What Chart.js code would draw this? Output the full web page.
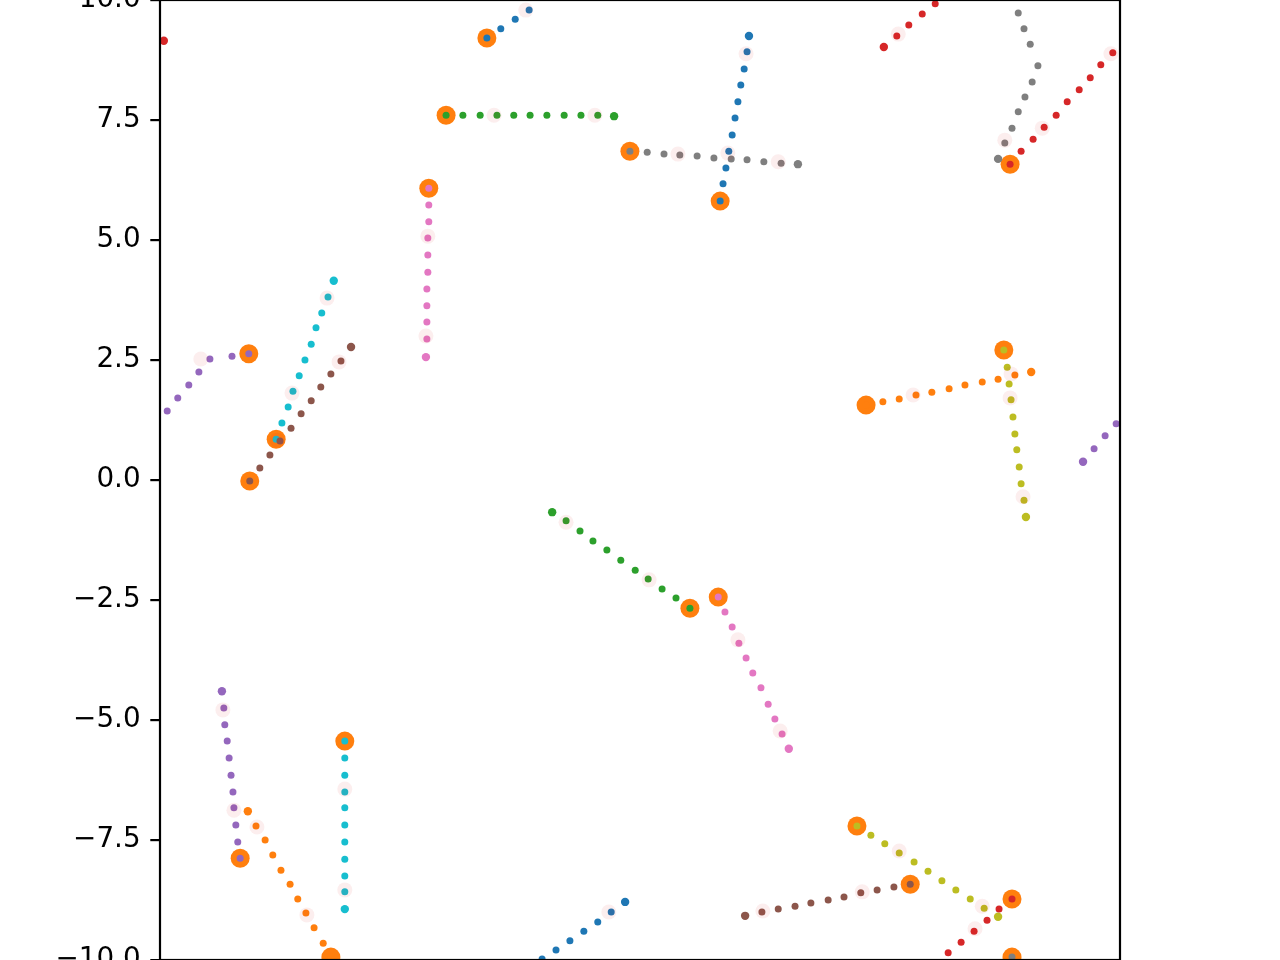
<!DOCTYPE html>
<html><head><meta charset="utf-8">
<script src="https://cdn.jsdelivr.net/npm/chart.js@4/dist/chart.umd.min.js"></script>
<style>html,body{margin:0;padding:0;background:#fff}canvas{display:block}</style>
</head><body>
<canvas id="c" width="1280" height="960"></canvas>
<script>
// ---- data (x, y per trajectory, first point = start, last = end) ----
const blueAX = [-3.19,-2.90,-2.60,-2.31,-2.04,-1.75,-1.46,-1.17,-0.88,-0.60,-0.31];
const blueAY = [9.21,9.40,9.60,9.79,-9.98,-9.79,-9.60,-9.40,-9.21,-9.00,-8.79];
const blueBX = [1.67,1.73,1.79,1.85,1.92,1.98,2.04,2.10,2.17,2.23,2.27];
const blueBY = [5.81,6.17,6.50,6.85,7.19,7.54,7.88,8.23,8.56,8.92,9.25];
const orangeAX = [4.71,5.06,5.40,5.75,6.08,6.44,6.77,7.13,7.46,7.81,8.15];
const orangeAY = [1.56,1.63,1.69,1.77,1.83,1.90,1.98,2.04,2.10,2.19,2.25];
const orangeBX = [-6.44,-6.60,-6.79,-6.96,-7.13,-7.29,-7.48,-7.65,-7.81,-8.00,-8.17];
const orangeBY = [-9.94,-9.65,-9.33,-9.02,-8.73,-8.42,-8.13,-7.81,-7.50,-7.21,-6.90];
const greenAX = [-4.04,-3.69,-3.33,-2.98,-2.63,-2.29,-1.94,-1.58,-1.23,-0.88,-0.54];
const greenAY = [7.60,7.60,7.60,7.60,7.60,7.60,7.60,7.60,7.60,7.60,7.58];
const greenBX = [1.04,0.75,0.46,0.17,-0.10,-0.40,-0.69,-0.98,-1.25,-1.54,-1.83];
const greenBY = [-2.67,-2.46,-2.27,-2.06,-1.88,-1.67,-1.46,-1.27,-1.06,-0.85,-0.67];
const redAX = [7.75,7.48,7.23,6.96,6.69,6.42,6.15,5.88,5.60,5.35,5.08];
const redAY = [-8.73,-8.94,-9.17,-9.40,-9.63,-9.85,9.92,9.71,9.48,9.25,9.02];
const redBX = [7.71,7.94,8.19,8.42,8.67,8.90,9.15,9.38,9.60,9.85,-9.92];
const redBY = [6.58,6.85,7.10,7.35,7.60,7.88,8.13,8.38,8.65,8.90,9.15];
const purpleAX = [-8.15,-8.50,-8.96,-9.19,-9.40,-9.63,-9.85,9.92,9.69,9.46,9.23];
const purpleAY = [2.63,2.58,2.52,2.25,1.98,1.71,1.44,1.17,0.92,0.65,0.38];
const purpleBX = [-8.33,-8.38,-8.42,-8.46,-8.48,-8.52,-8.56,-8.60,-8.65,-8.67,-8.71];
const purpleBY = [-7.88,-7.54,-7.19,-6.83,-6.50,-6.15,-5.79,-5.44,-5.10,-4.75,-4.40];
const brownAX = [-8.13,-7.92,-7.71,-7.50,-7.27,-7.06,-6.85,-6.65,-6.44,-6.23,-6.02];
const brownAY = [-0.02,0.25,0.52,0.81,1.08,1.38,1.65,1.94,2.21,2.48,2.77];
const brownBX = [5.63,5.29,4.94,4.60,4.25,3.92,3.56,3.23,2.88,2.54,2.19];
const brownBY = [-8.42,-8.48,-8.54,-8.60,-8.69,-8.75,-8.81,-8.88,-8.94,-9.00,-9.08];
const pinkAX = [-4.40,-4.40,-4.40,-4.42,-4.42,-4.42,-4.44,-4.44,-4.44,-4.44,-4.46];
const pinkAY = [6.08,5.73,5.38,5.04,4.69,4.33,3.98,3.63,3.29,2.94,2.56];
const pinkBX = [1.63,1.77,1.92,2.06,2.21,2.35,2.52,2.67,2.81,2.96,3.10];
const pinkBY = [-2.44,-2.75,-3.06,-3.40,-3.71,-4.02,-4.33,-4.67,-4.98,-5.29,-5.60];
const grayAX = [-0.21,0.15,0.50,0.83,1.19,1.54,1.90,2.23,2.58,2.94,3.29];
const grayAY = [6.85,6.83,6.79,6.77,6.75,6.71,6.69,6.67,6.63,6.60,6.58];
const grayBX = [7.75,7.88,8.00,8.13,8.29,8.17,8.02,7.88,7.75,7.60,7.46];
const grayBY = [-9.94,9.73,9.40,9.08,8.63,8.29,7.98,7.67,7.33,7.02,6.69];
const oliveAX = [7.58,7.65,7.69,7.73,7.77,7.81,7.85,7.90,7.94,8.00,8.04];
const oliveAY = [2.71,2.35,2.00,1.67,1.31,0.96,0.63,0.27,-0.08,-0.42,-0.77];
const oliveBX = [4.52,4.81,5.10,5.40,5.71,6.00,6.29,6.58,6.88,7.17,7.46];
const oliveBY = [-7.21,-7.40,-7.58,-7.77,-7.96,-8.15,-8.35,-8.54,-8.73,-8.92,-9.10];
const cyanAX = [-7.58,-7.46,-7.33,-7.23,-7.10,-6.98,-6.85,-6.75,-6.63,-6.50,-6.38];
const cyanAY = [0.85,1.19,1.52,1.85,2.17,2.50,2.83,3.17,3.48,3.81,4.15];
const cyanBX = [-6.15,-6.15,-6.15,-6.15,-6.15,-6.15,-6.15,-6.15,-6.15,-6.15,-6.15];
const cyanBY = [-5.44,-5.79,-6.15,-6.50,-6.83,-7.19,-7.54,-7.90,-8.25,-8.58,-8.94];

// faint observation halos
const haloX = [-2.38,-3.04,-0.94,0.79,1.83,2.21,2.88,5.38,7.60,8.38,9.81,-9.15,-6.52,-7.25,-7.56,-6.27,-4.42,-4.46,5.69,7.73,7.71,7.98,-1.54,0.19,2.04,2.92,-8.69,-8.46,-7.98,-6.94,-6.15,-6.15,-0.65,2.56,4.63,5.40,7.13,6.98];
const haloY = [9.79,7.60,7.60,6.79,6.81,8.88,6.63,9.29,7.08,7.33,8.88,2.52,3.79,1.81,0.83,2.46,5.08,3.00,1.77,2.21,1.71,-0.35,-0.88,-2.08,-3.33,-5.23,-4.79,-6.88,-7.23,-9.06,-6.44,-8.54,-9.00,-8.98,-8.58,-7.73,-8.88,-9.35];

const yTickValues = [-10,-7.5,-5,-2.5,0,2.5,5,7.5,10];

// ---- styles ----
const tab10 = {blue:'#1f77b4',orange:'#ff7f0e',green:'#2ca02c',red:'#d62728',purple:'#9467bd',
  brown:'#8c564b',pink:'#e377c2',gray:'#7f7f7f',olive:'#bcbd22',cyan:'#17becf'};
const trajectories = [
  [blueAX,blueAY,tab10.blue],[orangeAX,orangeAY,tab10.orange],[greenAX,greenAY,tab10.green],
  [redAX,redAY,tab10.red],[purpleAX,purpleAY,tab10.purple],[brownAX,brownAY,tab10.brown],
  [pinkAX,pinkAY,tab10.pink],[grayAX,grayAY,tab10.gray],[oliveAX,oliveAY,tab10.olive],
  [cyanAX,cyanAY,tab10.cyan],
  [blueBX,blueBY,tab10.blue],[orangeBX,orangeBY,tab10.orange],[greenBX,greenBY,tab10.green],
  [redBX,redBY,tab10.red],[purpleBX,purpleBY,tab10.purple],[brownBX,brownBY,tab10.brown],
  [pinkBX,pinkBY,tab10.pink],[grayBX,grayBY,tab10.gray],[oliveBX,oliveBY,tab10.olive],
  [cyanBX,cyanBY,tab10.cyan]
];
const DOT_R = 3.5, END_R = 4.2, START_R = 9.5, HALO_R = 7.5;

const datasets = [];
datasets.push({
  label:'halo', order:0, clip:0,
  data: haloX.map((x,i)=>({x, y:haloY[i]})),
  pointRadius:HALO_R, pointBorderWidth:0, pointBackgroundColor:'rgba(214,39,40,0.08)', showLine:false
});
trajectories.forEach(([xs,ys,col],k)=>{
  datasets.push({
    label:'traj'+k, order:1, clip:0,
    data: xs.map((x,i)=>({x, y:ys[i]})),
    pointRadius: xs.map((_,i)=> i===xs.length-1 ? END_R : DOT_R),
    pointBorderWidth:0, pointBackgroundColor:col, showLine:false
  });
});
datasets.push({
  label:'start', order:2, clip:0,
  data: trajectories.map(([xs,ys])=>({x:xs[0], y:ys[0]})),
  pointRadius:START_R, pointBorderWidth:0, pointBackgroundColor:tab10.orange, showLine:false
});

const framePlugin = {
  id:'frame',
  afterDatasetsDraw(chart){
    const {ctx, chartArea:a} = chart;
    ctx.save();
    ctx.strokeStyle = '#000'; ctx.lineWidth = 2.2;
    ctx.strokeRect(a.left, a.top, a.right - a.left, a.bottom - a.top);
    ctx.restore();
  }
};

new Chart(document.getElementById('c'), {
  type:'scatter',
  data:{datasets},
  plugins:[framePlugin],
  options:{
    responsive:false, animation:false, devicePixelRatio:1,
    layout:{autoPadding:false, padding:{left:0,right:160,top:0,bottom:0}},
    plugins:{legend:{display:false}, tooltip:{enabled:false}},
    scales:{
      x:{type:'linear', min:-10, max:10, display:false},
      y:{type:'linear', min:-10, max:10, position:'left',
        afterBuildTicks(s){ s.ticks = yTickValues.map(v=>({value:v})); },
        afterFit(s){ s.width = 160; s.paddingTop = 0; s.paddingBottom = 0; },
        border:{display:false},
        grid:{drawOnChartArea:false, drawTicks:true, tickLength:9.7, color:'#000', lineWidth:2.2},
        ticks:{padding:9.7, color:'#000', autoSkip:false,
          font:{family:'"DejaVu Sans"', size:27.8},
          callback:v=>(v<0?'\u2212':'')+Math.abs(v).toFixed(1)}
      }
    }
  }
});
</script>
</body></html>
